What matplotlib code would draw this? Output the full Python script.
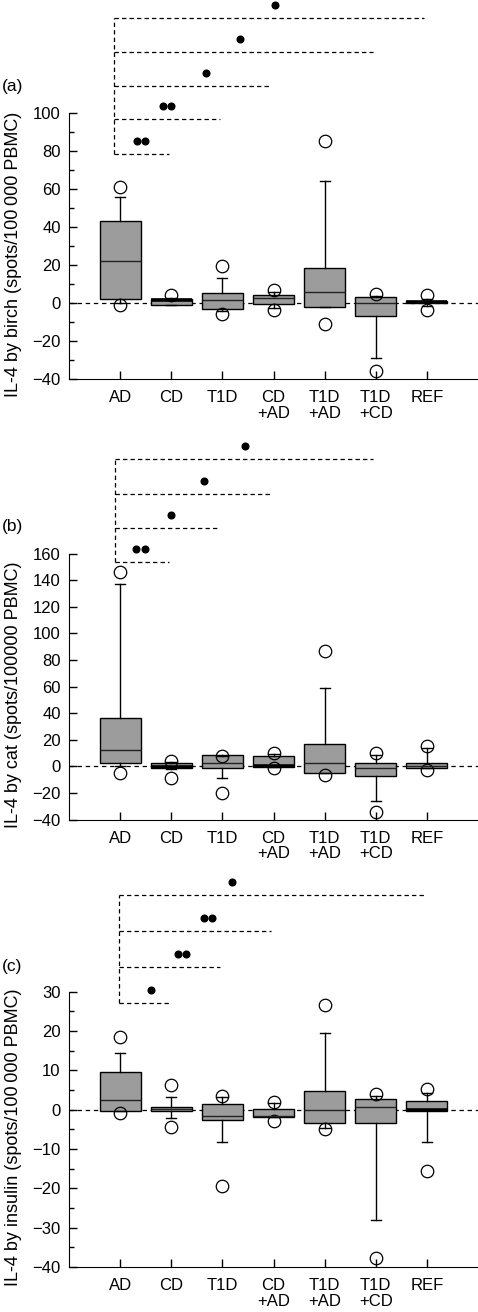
import matplotlib
matplotlib.use('Agg')
import matplotlib.pyplot as plt
from matplotlib.ticker import MultipleLocator, NullLocator
from matplotlib.transforms import ScaledTranslation

plt.rcParams['font.family'] = ['Liberation Sans', 'DejaVu Sans']
plt.rcParams['font.size'] = 12

groups = ['AD', 'CD', 'T1D', 'CD\n+AD', 'T1D\n+AD', 'T1D\n+CD', 'REF']

# (a) IL-4 by birch
birch_q1 = [2, -1, -3, -0.5, -2, -7, 0]
birch_med = [22, 1.8, 1.5, 2.5, 6, 0, 0.5]
birch_q3 = [43, 2.2, 5, 4, 18.5, 3, 1]
birch_lo = [0, -1, -4, -2.5, -2, -29, -1.5]
birch_hi = [56, 2.5, 13, 6, 64, 3.5, 2]
birch_out = [[61, -1], [4], [19.5, -6], [7, -3.5], [85, -11], [4.5, -36], [4, -3.5]]
birch_sig_to = [2, 3, 4, 6, 7]
birch_sig_y = [78.5, 97, 114, 132, 150]
birch_stars = [2, 2, 1, 1, 1]
birch_star_x = [1.41, 1.92, 2.68, 3.35, 4.02]

# (b) IL-4 by cat
cat_q1 = [2.2, -1.3, -1, -0.7, -5, -7.5, -1.5]
cat_med = [12.2, -0.5, 2.7, 0, 2.5, -1, 0.5]
cat_q3 = [36.2, 2.5, 8.7, 7.5, 16.5, 2.5, 2.2]
cat_lo = [0, -2, -9, -0.7, -5, -26, -1.5]
cat_hi = [137, 3, 8, 9, 59, 8.5, 13.7]
cat_out = [[146, -5], [4, -9], [7.5, -20], [10, -1], [87, -6.3], [10, -34], [15, -2.8]]
cat_sig_to = [2, 3, 4, 6]
cat_sig_y = [154, 179, 205, 231]
cat_stars = [2, 1, 1, 1]
cat_star_x = [1.40, 1.99, 2.65, 3.44]

# (c) IL-4 by insulin
ins_q1 = [-0.3, -0.3, -2.6, -1.8, -3.3, -3.3, -0.4]
ins_med = [2.5, 0.3, -1.5, -1.5, -0.2, 0.8, -0.2]
ins_q3 = [9.6, 0.7, 1.4, 0.2, 4.7, 2.8, 2.1]
ins_lo = [-0.3, -2.1, -8.2, -1.8, -4.6, -28, -8.1]
ins_hi = [14.4, 3.1, 3.2, 1.8, 19.4, 3.4, 4.3]
ins_out = [[18.4, -0.9], [6.3, -4.3], [3.5, -19.5], [1.9, -2.9], [26.7, -5], [4, -37.8], [5.2, -15.7]]
ins_sig_to = [2, 3, 4, 7]
ins_sig_y = [27.1, 36.2, 45.5, 54.7]
ins_stars = [1, 2, 2, 1]
ins_star_x = [1.60, 2.21, 2.72, 3.19]

fig = plt.figure(figsize=(4.78, 13.12), dpi=100)


def panel(rect, q1, med, q3, lo, hi, out, ylim, major, minor, ylabel,
          sig_from, sig_to, sig_y, stars, star_x, bold_med, tag, tag_y):
    ax = fig.add_axes(rect)
    stats = []
    for i in range(len(groups)):
        stats.append(dict(q1=q1[i], med=med[i], q3=q3[i], whislo=lo[i],
                          whishi=hi[i], fliers=out[i]))
    ax.axhline(0, color='black', lw=0.9, ls=(0, (3.5, 3)), zorder=1)
    res = ax.bxp(stats, positions=range(1, 8), widths=0.8, capwidths=0.2,
                 patch_artist=True,
                 boxprops=dict(facecolor='#9c9c9c', edgecolor='black', linewidth=1),
                 medianprops=dict(color='#222222', linewidth=1),
                 whiskerprops=dict(color='black', linewidth=1),
                 capprops=dict(color='black', linewidth=1),
                 flierprops=dict(marker='o', markersize=9, markerfacecolor='none',
                                 markeredgecolor='black', markeredgewidth=0.9))
    for i in bold_med:
        res['medians'][i].set_linewidth(2.6)
        res['medians'][i].set_color('black')
    for f in res['fliers']:
        f.set_clip_on(False)

    ax.set_xlim(0, 8)
    ax.set_ylim(*ylim)
    ax.spines['top'].set_visible(False)
    ax.spines['right'].set_visible(False)
    ax.set_xticks(range(1, 8))
    ax.set_xticklabels(groups, linespacing=1.05)
    ax.yaxis.set_major_locator(MultipleLocator(major))
    if minor:
        ax.yaxis.set_minor_locator(MultipleLocator(minor))
    else:
        ax.yaxis.set_minor_locator(NullLocator())
    ax.tick_params(axis='both', which='major', direction='in', length=6, width=1)
    ax.tick_params(axis='both', which='minor', direction='in', length=3.5, width=1)
    ax.tick_params(axis='x', pad=8)
    ax.tick_params(axis='y', pad=6)
    ax.set_ylabel(ylabel, fontsize=13)
    ax.yaxis.set_label_coords(-0.115, 0.47)

    # significance brackets above the axes
    kw = dict(color='black', lw=0.9, ls=(0, (3.5, 2.5)), clip_on=False)
    for t, y in zip(sig_to, sig_y):
        ax.plot([sig_from, t - 0.05], [y, y], **kw)
    ax.plot([sig_from, sig_from], [min(sig_y), max(sig_y)], **kw)
    for x, y, n in zip(star_x, sig_y, stars):
        offs = [0.0] if n == 1 else [-4.25, 4.25]
        for dx in offs:
            tr = ax.transData + ScaledTranslation(dx / 100, 13 / 100, fig.dpi_scale_trans)
            ax.plot([x], [y], 'o', ms=4.8, color='black', transform=tr, clip_on=False)

    fig.text(0.004, 1 - tag_y / 1312, tag, va='center', ha='left', fontsize=12.5)
    return ax


x0 = 69 / 478
w = 409 / 478
panel([x0, 1 - 379 / 1312, w, 266 / 1312], birch_q1, birch_med, birch_q3, birch_lo,
      birch_hi, birch_out, (-40, 100), 20, 10,
      'IL-4 by birch (spots/100\u2009000 PBMC)',
      0.88, birch_sig_to, birch_sig_y, birch_stars, birch_star_x, [1, 6], '(a)', 87)
panel([x0, 1 - 819.5 / 1312, w, 265.8 / 1312], cat_q1, cat_med, cat_q3, cat_lo,
      cat_hi, cat_out, (-40, 160), 20, None,
      'IL-4 by cat (spots/100000 PBMC)',
      0.89, cat_sig_to, cat_sig_y, cat_stars, cat_star_x, [1, 3], '(b)', 527)
panel([x0, 1 - 1267 / 1312, w, 275.3 / 1312], ins_q1, ins_med, ins_q3, ins_lo,
      ins_hi, ins_out, (-40, 30), 10, 5,
      'IL-4 by insulin (spots/100\u2009000 PBMC)',
      0.97, ins_sig_to, ins_sig_y, ins_stars, ins_star_x, [6], '(c)', 966)

fig.savefig('out.png', dpi=100)
